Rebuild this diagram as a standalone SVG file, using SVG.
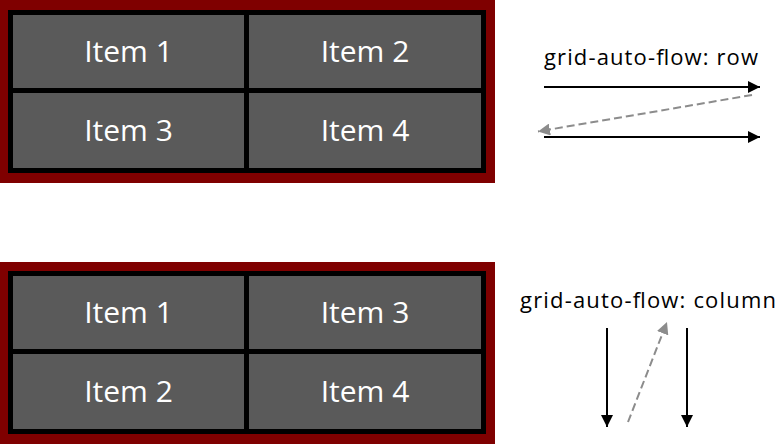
<svg xmlns="http://www.w3.org/2000/svg" width="777" height="444" viewBox="0 0 777 444">
<style>
.frame{fill:#7f0000}
.grid{fill:#000}
.cell{fill:#5a5a5a}
.item{font-family:"Open Sans","Liberation Sans",sans-serif;font-size:30px;font-weight:500;fill:#fff;text-anchor:middle}
.label{font-family:"Open Sans","Liberation Sans",sans-serif;font-size:22px;font-weight:500;fill:#000}
.solid{stroke:#000;stroke-width:2;fill:none}
.dash{stroke:#8c8c8c;stroke-width:2;fill:none;stroke-dasharray:8 4}
</style>
<defs>
<marker id="ab" markerUnits="userSpaceOnUse" markerWidth="12" markerHeight="12" refX="12" refY="6" orient="auto">
<path d="M0,0 L12,6 L0,12 z" fill="#000"/>
</marker>
<marker id="ag" markerUnits="userSpaceOnUse" markerWidth="12" markerHeight="12" refX="12" refY="6" orient="auto">
<path d="M0,0 L12,6 L0,12 z" fill="#8c8c8c"/>
</marker>
</defs>
<g id="grid-row">
<rect class="frame" x="0" y="0" width="495" height="183"/>
<rect class="grid" x="8" y="10" width="478" height="163"/>
<g id="row-item1"><rect class="cell" x="13" y="15" width="231" height="73"/><text class="item" x="128.5" y="62">Item 1</text></g>
<g id="row-item2"><rect class="cell" x="249" y="15" width="232" height="73"/><text class="item" x="365" y="62">Item 2</text></g>
<g id="row-item3"><rect class="cell" x="13" y="93" width="231" height="75"/><text class="item" x="128.5" y="141">Item 3</text></g>
<g id="row-item4"><rect class="cell" x="249" y="93" width="232" height="75"/><text class="item" x="365" y="141">Item 4</text></g>
</g>
<g id="grid-column">
<rect class="frame" x="0" y="262" width="495" height="182"/>
<rect class="grid" x="8" y="271" width="478" height="163"/>
<g id="col-item1"><rect class="cell" x="13" y="276" width="231" height="73"/><text class="item" x="128.5" y="323">Item 1</text></g>
<g id="col-item3"><rect class="cell" x="249" y="276" width="232" height="73"/><text class="item" x="365" y="323">Item 3</text></g>
<g id="col-item2"><rect class="cell" x="13" y="354" width="231" height="75"/><text class="item" x="128.5" y="402">Item 2</text></g>
<g id="col-item4"><rect class="cell" x="249" y="354" width="232" height="75"/><text class="item" x="365" y="402">Item 4</text></g>
</g>
<g id="label-row"><text class="label" x="544" y="64.5" textLength="214" lengthAdjust="spacing">grid-auto-flow: row</text></g>
<g id="label-column"><text class="label" x="520" y="307.5" textLength="256" lengthAdjust="spacing">grid-auto-flow: column</text></g>
<g id="connectors">
<line class="solid" x1="544" y1="87" x2="760" y2="87" marker-end="url(#ab)"/>
<line class="solid" x1="544" y1="137" x2="760" y2="137" marker-end="url(#ab)"/>
<line class="dash" x1="752" y1="95" x2="538" y2="131.5" marker-end="url(#ag)"/>
<line class="solid" x1="607" y1="328" x2="607" y2="427" marker-end="url(#ab)"/>
<line class="solid" x1="687" y1="328" x2="687" y2="427" marker-end="url(#ab)"/>
<line class="dash" x1="628" y1="422" x2="667" y2="322" marker-end="url(#ag)"/>
</g>
</svg>
